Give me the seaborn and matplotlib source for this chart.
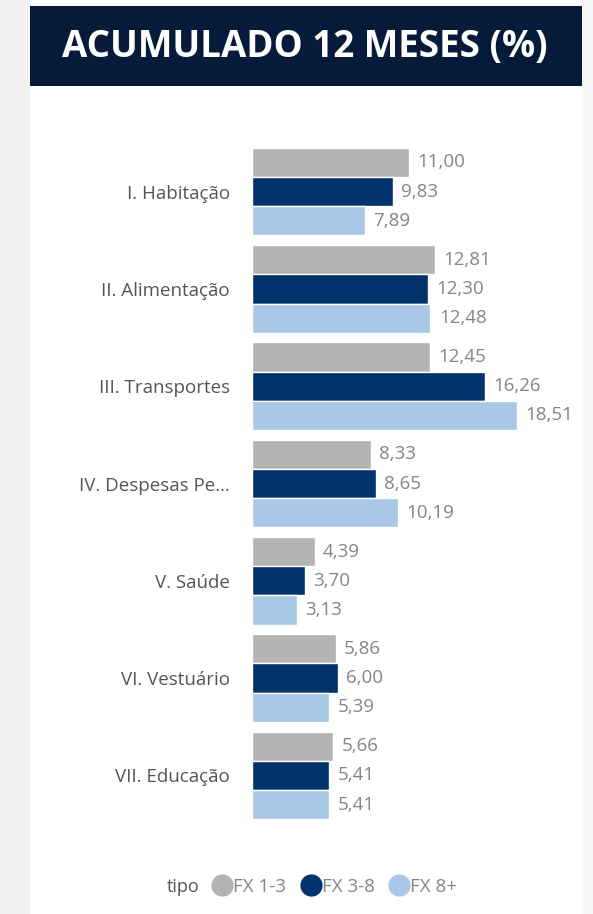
import numpy as np
import pandas as pd
import matplotlib.pyplot as plt
import seaborn as sns
from matplotlib.lines import Line2D
from matplotlib.patches import Rectangle

categorias = ["I. Habitação", "II. Alimentação", "III. Transportes",
              "IV. Despesas Pe…", "V. Saúde", "VI. Vestuário", "VII. Educação"]
fx_1_3 = [11.00, 12.81, 12.45, 8.33, 4.39, 5.86, 5.66]
fx_3_8 = [9.83, 12.30, 16.26, 8.65, 3.70, 6.00, 5.41]
fx_8 = [7.89, 12.48, 18.51, 10.19, 3.13, 5.39, 5.41]
tipos = ["FX 1-3", "FX 3-8", "FX 8+"]
cores = ["#b3b3b3", "#00326b", "#a9c7e6"]

df = pd.DataFrame({
    "categoria": categorias * 3,
    "tipo": np.repeat(tipos, len(categorias)),
    "valor": fx_1_3 + fx_3_8 + fx_8,
})

sns.set_theme(style="white")
plt.rcParams["font.family"] = ["Open Sans", "DejaVu Sans"]

W, H = 593, 914
fig = plt.figure(figsize=(W / 100, H / 100), dpi=100)
fig.patch.set_facecolor("white")

# fundo cinza nas laterais e faixa do titulo
fig.patches.append(Rectangle((0, 0), 30 / W, 1, transform=fig.transFigure,
                             facecolor="#f2f1f0", edgecolor="none", zorder=0))
fig.patches.append(Rectangle((582 / W, 0), 11 / W, 1, transform=fig.transFigure,
                             facecolor="#f7f7f7", edgecolor="none", zorder=0))
fig.patches.append(Rectangle((30 / W, 1 - 86 / H), 552 / W, 80 / H, transform=fig.transFigure,
                             facecolor="#061a3a", edgecolor="none", zorder=1))
fig.text(305 / W, 1 - 47 / H, "ACUMULADO 12 MESES (%)", color="white",
         fontsize=26.5, fontweight="bold", ha="center", va="center")

# eixo: x de 252 a 538 px (0..20), y de 143 a 824 px
ax = fig.add_axes([252 / W, 1 - 824 / H, 286 / W, 681 / H])
sns.barplot(data=df, y="categoria", x="valor", hue="tipo", palette=cores,
            orient="h", width=0.9, saturation=1, ax=ax, legend=False)
ax.set_xlim(0, 20)
ax.set_ylim(6.5, -0.5)
for cont in ax.containers:
    vals = [b.get_width() for b in cont]
    texts = ax.bar_label(cont, labels=[f"{v:.2f}".replace(".", ",") for v in vals],
                         padding=6, color="#858585", fontsize=13.5)
    for t in texts:
        t.set_va("center")
        t.set_y(t.get_position()[1])
ax.set_xlabel("")
ax.set_ylabel("")
ax.set_xticks([])
ax.tick_params(axis="y", length=0, pad=16, labelsize=13.5, labelcolor="#555555")
sns.despine(ax=ax, left=True, bottom=True)
ax.set_facecolor("none")

# legenda
fig.text(183 / W, 1 - 887 / H, "tipo", color="#555555", fontsize=13, ha="center", va="center")
handles = [Line2D([], [], marker="o", linestyle="none", markersize=15,
                  markerfacecolor=c, markeredgecolor=c) for c in cores]
fig.legend(handles, tipos, loc="center", bbox_to_anchor=(334 / W, 1 - 887 / H), ncol=3,
           frameon=False, fontsize=13.5, labelcolor="#858585", handletextpad=0.0,
           columnspacing=0.7, handlelength=1.2)

fig.savefig("out.png", dpi=100)
